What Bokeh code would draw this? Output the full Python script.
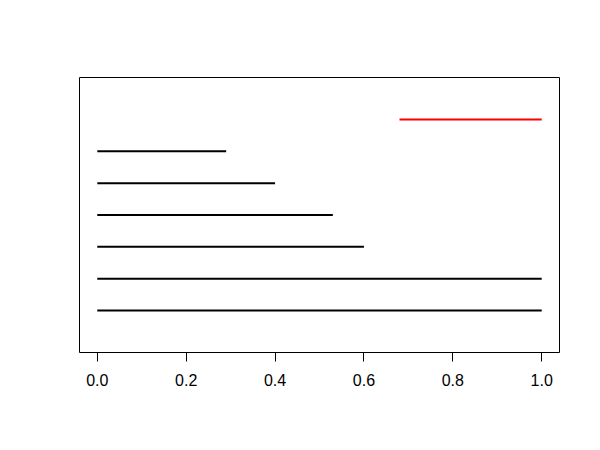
from bokeh.plotting import figure
from bokeh.models import Range1d, ColumnDataSource, FixedTicker
from bokeh.embed import file_html
from bokeh.resources import INLINE

# data
y_pos = [1, 2, 3, 4, 5, 6, 7]
x_start = [0.0, 0.0, 0.0, 0.0, 0.0, 0.0, 0.68]
x_end = [1.0, 1.0, 0.60, 0.53, 0.40, 0.29, 1.0]
colors = ["black", "black", "black", "black", "black", "black", "red"]
x_ticks = [0.0, 0.2, 0.4, 0.6, 0.8, 1.0]
tick_labels = {0.0: "0.0", 0.2: "0.2", 0.4: "0.4", 0.6: "0.6", 0.8: "0.8", 1.0: "1.0"}

src = ColumnDataSource(dict(y=y_pos, x0=x_start, x1=x_end, c=colors))

p = figure(width=592, height=442, output_backend="svg", toolbar_location=None,
           x_range=Range1d(-0.04, 1.04), y_range=Range1d(-0.32, 8.32),
           y_axis_location=None, min_border_left=79, min_border_right=33,
           min_border_top=77, min_border_bottom=90)
p.xgrid.visible = False
p.ygrid.visible = False
p.outline_line_color = "black"
p.outline_line_width = 1
p.background_fill_color = "white"
p.border_fill_color = "white"

p.segment(x0="x0", y0="y", x1="x1", y1="y", color="c", line_width=2, source=src)

ax = p.xaxis[0]
ax.ticker = FixedTicker(ticks=x_ticks)
ax.major_label_overrides = tick_labels
ax.bounds = (0, 1)
ax.axis_line_color = "black"
ax.major_tick_out = 9
ax.major_tick_in = 0
ax.minor_tick_line_color = None
ax.major_label_text_font = "Liberation Sans"
ax.major_label_text_font_size = "16px"
ax.major_label_text_color = "black"
ax.major_label_standoff = 12

open("out.html", "w").write(file_html(p, INLINE))
